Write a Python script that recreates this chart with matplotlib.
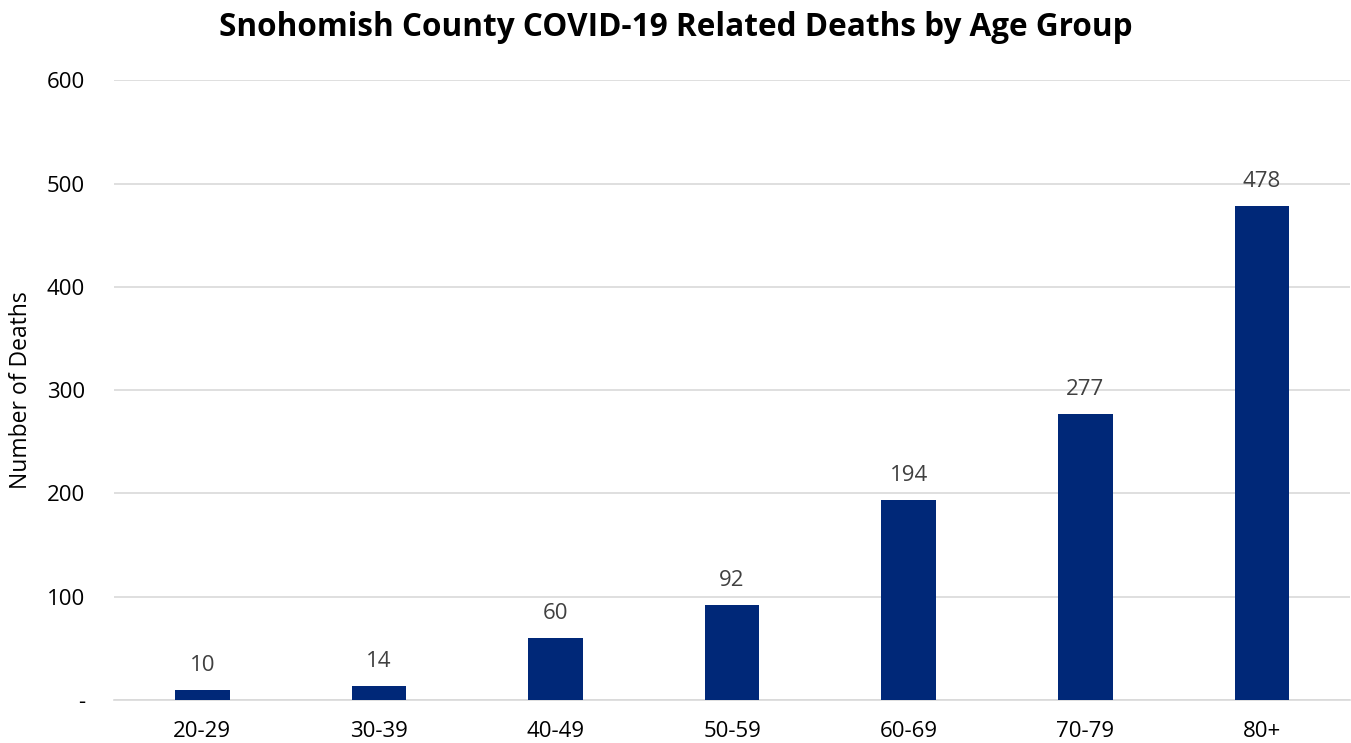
import matplotlib.pyplot as plt

# ---------- Data ----------
age_groups = ["20-29", "30-39", "40-49", "50-59", "60-69", "70-79", "80+"]
deaths = [10, 14, 60, 92, 194, 277, 478]
y_ticks = [0, 100, 200, 300, 400, 500, 600]
y_tick_labels = ["-", "100", "200", "300", "400", "500", "600"]
# --------------------------

BAR_COLOR = "#002878"
GRID_COLOR = "#d9d9d9"
TEXT_COLOR = "#000000"
LABEL_COLOR = "#404040"

plt.rcParams["font.family"] = ["Open Sans", "DejaVu Sans"]

fig = plt.figure(figsize=(13.51, 7.43), dpi=100)
ax = fig.add_axes([0.0844, 0.0579, 0.915, 0.834])

x = range(len(age_groups))
bars = ax.bar(x, deaths, width=0.31, color=BAR_COLOR, zorder=3)

for xi, v in zip(x, deaths):
    ax.annotate(str(v), (xi, v), xytext=(0, 10), textcoords="offset points",
                ha="center", va="bottom", fontsize=16, color=LABEL_COLOR)

ax.set_xlim(-0.5, len(age_groups) - 0.5)
ax.set_ylim(0, 600)
ax.set_yticks(y_ticks)
ax.set_yticklabels(y_tick_labels)
ax.set_xticks(list(x))
ax.set_xticklabels(age_groups)
ax.tick_params(axis="both", length=0, labelsize=16, colors=TEXT_COLOR)
ax.tick_params(axis="y", pad=21)
ax.tick_params(axis="x", pad=15)

ax.grid(axis="y", color=GRID_COLOR, linewidth=1.2, zorder=0)
for s in ["top", "right", "left"]:
    ax.spines[s].set_visible(False)
ax.spines["bottom"].set_color(GRID_COLOR)
ax.spines["bottom"].set_linewidth(1.2)

ax.set_ylabel("Number of Deaths", fontsize=16.5, color=TEXT_COLOR, labelpad=10)
fig.text(0.5, 0.963, "Snohomish County COVID-19 Related Deaths by Age Group",
         ha="center", va="center", fontsize=22.7, fontweight="bold", color=TEXT_COLOR)

fig.savefig("out.png", dpi=100)
